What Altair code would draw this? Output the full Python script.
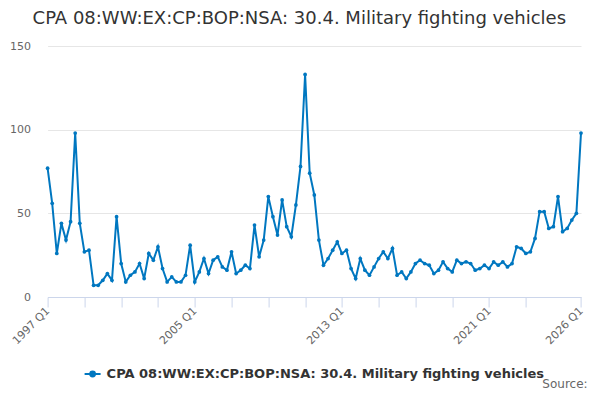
import altair as alt
import pandas as pd

start_year = 1997
values = [77, 56, 26, 44, 34, 45, 98, 44, 27, 28,
          7, 7, 10, 14, 10, 48, 20, 9, 13, 15,
          20, 11, 26, 22, 30, 17, 9, 12, 9, 9,
          13, 31, 9, 15, 23, 14, 22, 24, 18, 16,
          27, 14, 16, 19, 17, 43, 24, 34, 60, 48,
          37, 58, 42, 36, 55, 78, 133, 74, 61, 34,
          19, 23, 28, 33, 26, 28, 17, 11, 23, 16,
          13, 18, 23, 27, 23, 29, 13, 15, 11, 15,
          20, 22, 20, 19, 14, 16, 21, 17, 15, 22,
          20, 21, 20, 16, 17, 19, 17, 21, 19, 21,
          18, 20, 30, 29, 26, 27, 35, 51, 51, 41,
          42, 60, 39, 41, 46, 50, 98]
quarters = [f"{start_year + i // 4} Q{i % 4 + 1}" for i in range(len(values))]
series_name = "CPA 08:WW:EX:CP:BOP:NSA: 30.4. Military fighting vehicles"
tick_idx = [0, 8, 16, 24, 32, 40, 48, 56, 64, 72, 80, 88, 96, 104, 116]
label_idx = [0, 32, 64, 96, 116]
y_ticks = [0, 50, 100, 150]
source_text = ["Source:"]

df = pd.DataFrame({
    "idx": list(range(len(values))),
    "quarter": quarters,
    "value": values,
    "series": [series_name] * len(values),
})

label_expr = " : ".join(
    f"datum.value == {i} ? '{quarters[i]}'" for i in label_idx
) + " : ''"

color = "#0077c0"
legend_symbol = "M-1,0L1,0M-0.3,0a0.3,0.3 0 1,0 0.6,0a0.3,0.3 0 1,0 -0.6,0"

line = alt.Chart(df).mark_line(
    strokeWidth=2,
    point=alt.OverlayMarkDef(size=14, filled=True, color=color),
).encode(
    x=alt.X("idx:Q",
            scale=alt.Scale(domain=[0, len(values) - 1], nice=False, zero=False),
            axis=alt.Axis(values=tick_idx, labelExpr=label_expr, labelAngle=-45,
                          labelAlign="right", labelBaseline="middle",
                          title=None, grid=False, domainColor="#ccd6eb",
                          tickColor="#ccd6eb", tickSize=10, labelColor="#666666",
                          labelFontSize=11, labelPadding=2, labelOverlap=False,
                          labelFlush=False)),
    y=alt.Y("value:Q",
            scale=alt.Scale(domain=[0, 150], nice=False),
            axis=alt.Axis(values=y_ticks, title=None, domain=False, ticks=False,
                          gridColor="#e6e6e6", labelColor="#666666",
                          labelFontSize=11, labelPadding=17)),
    color=alt.Color("series:N", scale=alt.Scale(range=[color]),
                    legend=alt.Legend(title=None, orient="none", legendX=36,
                                      legendY=319, symbolType=legend_symbol,
                                      symbolSize=256, symbolStrokeWidth=2,
                                      symbolFillColor=color, symbolStrokeColor=color,
                                      labelFontSize=13, labelFontWeight="bold",
                                      labelColor="#333333", labelLimit=0,
                                      labelOffset=5)),
)

source = alt.Chart(pd.DataFrame({"t": source_text})).mark_text(
    align="right", baseline="alphabetic", fontSize=12, color="#666666"
).encode(text="t:N", x=alt.value(540), y=alt.value(342))

chart = alt.layer(line, source).properties(
    width=533.4,
    height=251,
    title=alt.TitleParams(series_name, fontSize=18, fontWeight="normal",
                          color="#333333", anchor="middle", dx=-15, offset=12),
    autosize=alt.AutoSizeParams(type="none"),
    padding={"left": 39.6, "top": 38, "right": 10, "bottom": 95},
).configure(font="DejaVu Sans").configure_view(stroke=None)

chart.save("out.html", embed_options={"renderer": "svg", "actions": False})
